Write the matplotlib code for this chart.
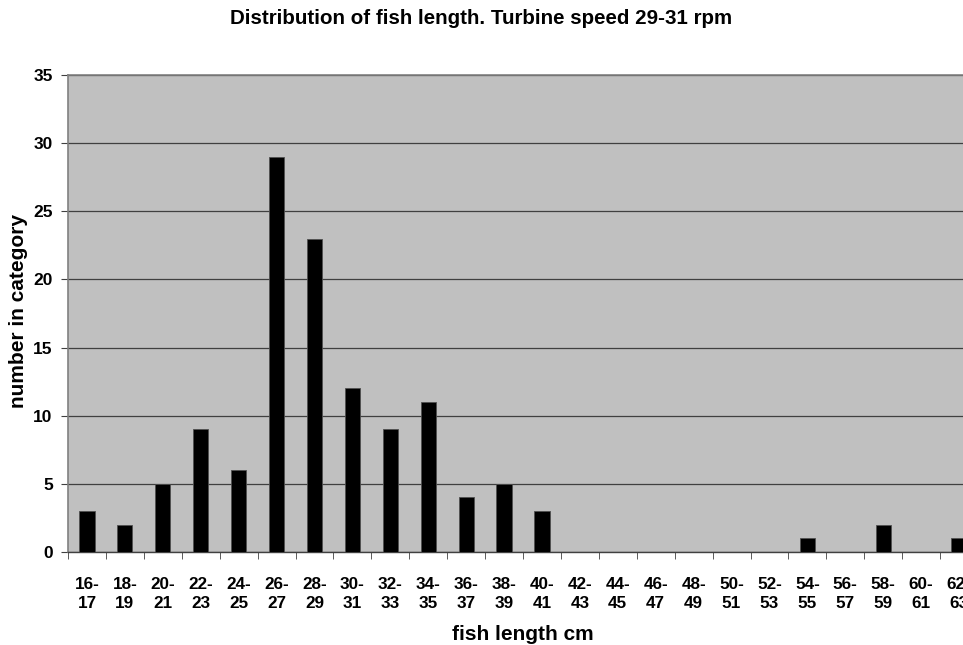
import matplotlib
matplotlib.use("Agg")
import matplotlib.pyplot as plt
import numpy as np

plt.rcParams['font.family'] = ['Liberation Sans', 'DejaVu Sans']

categories = ["16-\n17", "18-\n19", "20-\n21", "22-\n23", "24-\n25", "26-\n27", "28-\n29",
              "30-\n31", "32-\n33", "34-\n35", "36-\n37", "38-\n39", "40-\n41", "42-\n43",
              "44-\n45", "46-\n47", "48-\n49", "50-\n51", "52-\n53", "54-\n55", "56-\n57",
              "58-\n59", "60-\n61", "62-\n63"]
counts = [3, 2, 5, 9, 6, 29, 23, 12, 9, 11, 4, 5, 3, 0, 0, 0, 0, 0, 0, 1, 0, 2, 0, 1]
yticks = [0, 5, 10, 15, 20, 25, 30, 35]

fig = plt.figure(figsize=(9.63, 6.45), dpi=100)
ax = fig.add_axes([68/963, 93/645, 910/963, 477/645])
ax.set_facecolor('#C0C0C0')

x = np.arange(len(categories))
ax.bar(x, counts, width=0.4, color='black', edgecolor='#505050', linewidth=0.6, zorder=3)
ax.set_xlim(-0.5, len(categories) - 0.5)
ax.set_ylim(0, 35)
ax.set_yticks(yticks)
ax.yaxis.grid(True, color='#404040', linewidth=0.9, zorder=1)
ax.set_axisbelow(True)

ax.set_xticks(x)
ax.set_xticklabels(categories, fontsize=12.3, fontweight='bold', linespacing=1.33)
ax.set_xticks(np.arange(-0.5, len(categories), 1), minor=True)
ax.tick_params(axis='x', which='major', length=0, pad=30)
ax.tick_params(axis='x', which='minor', length=5, color='#404040', direction='out')
ax.tick_params(axis='y', which='major', length=5, color='#404040', labelsize=12.5, pad=6)
for lab in ax.get_xticklabels():
    lab.set_va('center')
for lab in ax.get_yticklabels():
    lab.set_fontweight('bold')

for s in ['top', 'left', 'right']:
    ax.spines[s].set_color('#808080')
    ax.spines[s].set_linewidth(1.2)
ax.spines['bottom'].set_color('#404040')
ax.spines['bottom'].set_linewidth(1.0)

ax.set_xlabel('fish length cm', fontsize=15, fontweight='bold')
ax.xaxis.label.set_va('center')
ax.xaxis.set_label_coords(0.5, (552 - 635) / 477)
ax.set_ylabel('number in category', fontsize=15, fontweight='bold')
ax.yaxis.label.set_va('center')
ax.yaxis.set_label_coords((18 - 68) / 910, (552 - 311.5) / 477)
fig.text(0.5, 1 - 24/645, 'Distribution of fish length. Turbine speed 29-31 rpm',
         ha='center', va='baseline', fontsize=14.8, fontweight='bold')

fig.savefig('out.png', dpi=100)
